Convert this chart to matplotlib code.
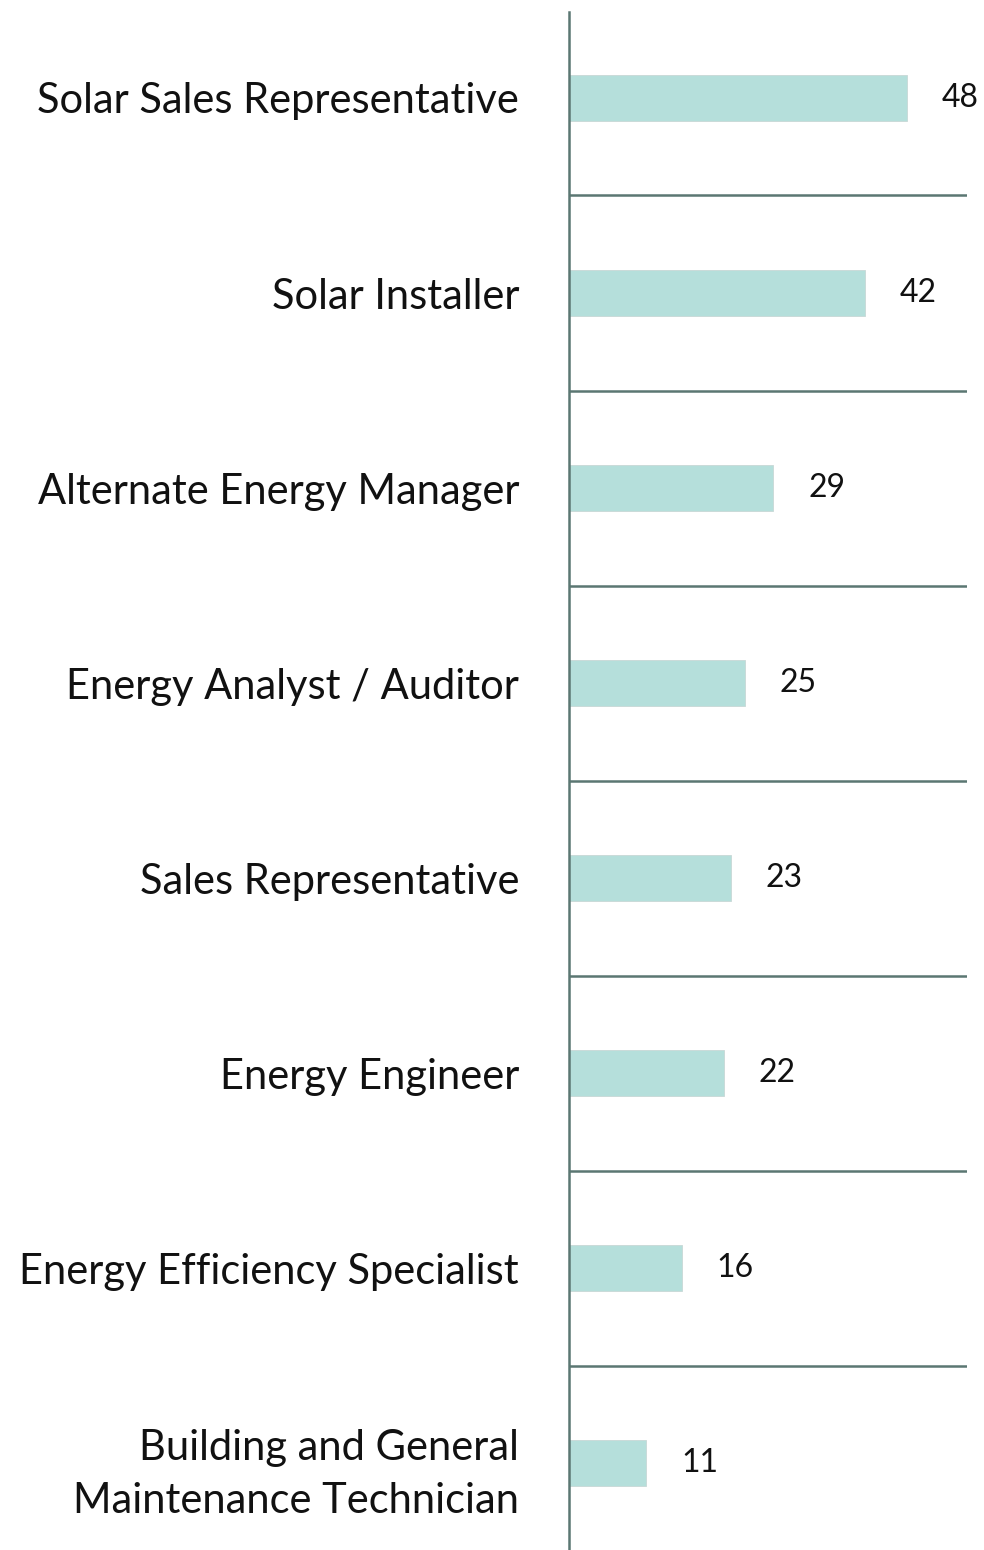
import matplotlib
matplotlib.use("Agg")
import matplotlib.pyplot as plt

categories = [
    "Solar Sales Representative",
    "Solar Installer",
    "Alternate Energy Manager",
    "Energy Analyst / Auditor",
    "Sales Representative",
    "Energy Engineer",
    "Energy Efficiency Specialist",
    "Building and General\nMaintenance Technician",
]
values = [48, 42, 29, 25, 23, 22, 16, 11]

bar_color = "#b5dfdb"
line_color = "#5b7772"

plt.rcParams['font.family'] = ['Lato', 'DejaVu Sans']

fig = plt.figure(figsize=(9.84, 15.5), dpi=100)
ax = fig.add_axes([569/984, 0.0, 398/984, 1 - 12/1550])

n = len(categories)
ypos = list(range(n))
ax.barh(ypos, values, height=0.24, color=bar_color, edgecolor="#c8d8d6", linewidth=0.6, zorder=2)

for y, v in zip(ypos, values):
    ax.annotate(str(v), xy=(v, y), xytext=(25, 0), textcoords="offset points",
                va="center", ha="left", fontsize=23, color="#111111", clip_on=False)

for i in range(n - 1):
    ax.plot([0, 56.5], [i + 0.5, i + 0.5], color=line_color, linewidth=1.8, zorder=1,
            solid_capstyle="butt")

ax.set_xlim(0, 56.5)
ax.set_ylim(n - 1 + 0.446, -0.441)

ax.set_yticks(ypos)
ax.set_yticklabels(categories, fontsize=30, color="#111111", linespacing=1.5)
ax.tick_params(axis="y", length=0, pad=36)
ax.set_xticks([])

for s in ["top", "right", "bottom"]:
    ax.spines[s].set_visible(False)
ax.spines["left"].set_color(line_color)
ax.spines["left"].set_linewidth(1.8)

fig.savefig("out.png", dpi=100, facecolor="white")
